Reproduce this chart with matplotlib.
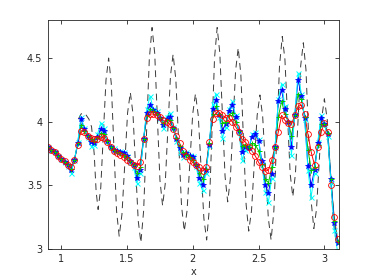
import numpy as np
import matplotlib
matplotlib.use('Agg')
import matplotlib.pyplot as plt

# sample positions shared by the four filtered series
x = [0.900, 0.925, 0.950, 0.975, 1.000, 1.025, 1.050, 1.075, 1.100, 1.125,
     1.150, 1.175, 1.200, 1.225, 1.250, 1.275, 1.300, 1.325, 1.350, 1.375,
     1.400, 1.425, 1.450, 1.475, 1.500, 1.525, 1.550, 1.575, 1.600, 1.625,
     1.650, 1.675, 1.700, 1.725, 1.750, 1.775, 1.800, 1.825, 1.850, 1.875,
     1.900, 1.925, 1.950, 1.975, 2.000, 2.025, 2.050, 2.075, 2.100, 2.125,
     2.150, 2.175, 2.200, 2.225, 2.250, 2.275, 2.300, 2.325, 2.350, 2.375,
     2.400, 2.425, 2.450, 2.475, 2.500, 2.525, 2.550, 2.575, 2.600, 2.625,
     2.650, 2.675, 2.700, 2.725, 2.750, 2.775, 2.800, 2.825, 2.850, 2.875,
     2.900, 2.925, 2.950, 2.975, 3.000, 3.025, 3.050, 3.075, 3.100]

y_cyan = [3.80, 3.78, 3.76, 3.73, 3.71, 3.68, 3.65, 3.60, 3.70, 3.84,
          4.04, 3.95, 3.88, 3.81, 3.82, 3.90, 3.99, 3.95, 3.85, 3.80,
          3.79, 3.77, 3.77, 3.76, 3.73, 3.68, 3.64, 3.52, 3.60, 3.86,
          4.10, 4.20, 4.10, 4.08, 4.03, 3.95, 4.04, 4.07, 3.96, 3.85,
          3.76, 3.72, 3.76, 3.74, 3.73, 3.65, 3.52, 3.46, 3.60, 3.82,
          4.14, 4.22, 4.04, 3.87, 3.96, 4.10, 4.16, 4.05, 3.92, 3.70,
          3.78, 3.79, 3.90, 3.92, 3.86, 3.67, 3.45, 3.37, 3.56, 3.80,
          4.18, 4.30, 4.12, 4.00, 3.74, 4.06, 4.38, 4.22, 4.02, 3.62,
          3.41, 3.60, 3.84, 4.05, 3.98, 3.89, 3.52, 3.15, 2.98]

y_blue = [3.80, 3.78, 3.76, 3.73, 3.71, 3.68, 3.66, 3.62, 3.70, 3.83,
          4.02, 3.94, 3.89, 3.84, 3.83, 3.88, 3.94, 3.93, 3.85, 3.80,
          3.78, 3.77, 3.76, 3.75, 3.73, 3.69, 3.66, 3.56, 3.62, 3.86,
          4.07, 4.13, 4.09, 4.07, 4.03, 3.97, 4.02, 4.04, 3.95, 3.86,
          3.79, 3.74, 3.75, 3.73, 3.72, 3.66, 3.56, 3.50, 3.62, 3.82,
          4.10, 4.17, 4.05, 3.93, 3.98, 4.08, 4.13, 4.04, 3.93, 3.76,
          3.80, 3.79, 3.88, 3.90, 3.85, 3.69, 3.50, 3.44, 3.59, 3.80,
          4.16, 4.25, 4.10, 4.00, 3.80, 4.05, 4.33, 4.20, 4.03, 3.65,
          3.50, 3.62, 3.83, 4.03, 3.98, 3.90, 3.55, 3.20, 3.05]

y_green = [3.80, 3.78, 3.76, 3.73, 3.71, 3.68, 3.66, 3.63, 3.70, 3.83,
           3.97, 3.93, 3.89, 3.86, 3.85, 3.87, 3.91, 3.90, 3.85, 3.80,
           3.78, 3.76, 3.75, 3.74, 3.72, 3.69, 3.66, 3.60, 3.64, 3.86,
           4.05, 4.10, 4.08, 4.06, 4.03, 3.99, 4.01, 4.01, 3.95, 3.87,
           3.81, 3.76, 3.74, 3.72, 3.70, 3.66, 3.60, 3.55, 3.63, 3.83,
           4.06, 4.12, 4.06, 3.99, 4.00, 4.05, 4.07, 4.00, 3.93, 3.81,
           3.82, 3.80, 3.83, 3.82, 3.77, 3.67, 3.55, 3.52, 3.64, 3.80,
           4.04, 4.16, 4.06, 4.00, 3.89, 4.05, 4.22, 4.18, 4.04, 3.78,
           3.62, 3.64, 3.82, 3.98, 3.98, 3.91, 3.55, 3.22, 3.06]

y_red = [3.80, 3.78, 3.76, 3.73, 3.71, 3.69, 3.66, 3.64, 3.70, 3.82,
         3.93, 3.92, 3.89, 3.87, 3.86, 3.86, 3.88, 3.87, 3.84, 3.80,
         3.77, 3.75, 3.74, 3.72, 3.70, 3.68, 3.66, 3.65, 3.68, 3.86,
         4.03, 4.06, 4.06, 4.05, 4.04, 4.01, 4.00, 3.98, 3.94, 3.89,
         3.83, 3.77, 3.73, 3.70, 3.68, 3.66, 3.64, 3.61, 3.64, 3.84,
         4.02, 4.07, 4.07, 4.05, 4.03, 4.03, 4.00, 3.96, 3.92, 3.86,
         3.84, 3.80, 3.77, 3.73, 3.68, 3.64, 3.61, 3.62, 3.70, 3.80,
         3.92, 4.05, 4.01, 3.99, 3.98, 4.05, 4.12, 4.13, 4.06, 3.90,
         3.76, 3.66, 3.80, 3.92, 3.99, 3.92, 3.50, 3.25, 3.08]

# dashed reference signal, read at extrema and in between
x_sig = [1.13, 1.15, 1.17, 1.19, 1.21, 1.23, 1.25, 1.265, 1.28,
         1.30, 1.32, 1.34, 1.36, 1.38, 1.40, 1.42, 1.44,
         1.461, 1.4825, 1.504, 1.525, 1.545, 1.565, 1.585, 1.605,
         1.626, 1.6475, 1.669, 1.69, 1.71, 1.73, 1.75, 1.77,
         1.79, 1.81, 1.83, 1.85, 1.871, 1.8925, 1.914, 1.935,
         1.956, 1.9775, 1.999, 2.02, 2.041, 2.0625, 2.084, 2.105,
         2.125, 2.145, 2.165, 2.185, 2.205, 2.225, 2.245, 2.265,
         2.285, 2.305, 2.325, 2.345, 2.365, 2.385, 2.405, 2.425,
         2.446, 2.4675, 2.489, 2.51, 2.531, 2.5525, 2.574, 2.595,
         2.616, 2.6375, 2.659, 2.68, 2.70, 2.72, 2.74, 2.76,
         2.78, 2.80, 2.82, 2.84, 2.86, 2.88, 2.90, 2.92,
         2.94, 2.96, 2.98, 3.00, 3.0225, 3.045, 3.0675, 3.09]
y_sig = [4.02, 4.06, 4.07, 4.05, 4.02, 3.96, 3.75, 3.45, 3.31,
         3.48, 3.91, 4.33, 4.50, 4.30, 3.80, 3.30, 3.10,
         3.27, 3.665, 4.07, 4.23, 4.06, 3.64, 3.22, 3.05,
         3.30, 3.895, 4.49, 4.74, 4.54, 4.04, 3.54, 3.34,
         3.51, 3.935, 4.36, 4.53, 4.33, 3.835, 3.34, 3.14,
         3.30, 3.68, 4.06, 4.22, 4.05, 3.645, 3.24, 3.07,
         3.31, 3.905, 4.50, 4.74, 4.54, 4.055, 3.57, 3.37,
         3.55, 3.975, 4.40, 4.58, 4.37, 3.86, 3.35, 3.14,
         3.30, 3.675, 4.05, 4.21, 4.04, 3.64, 3.24, 3.07,
         3.30, 3.87, 4.44, 4.67, 4.49, 4.04, 3.59, 3.41,
         3.59, 4.015, 4.44, 4.62, 4.41, 3.89, 3.37, 3.16,
         3.31, 3.67, 4.03, 4.18, 4.01, 3.615, 3.22, 3.05]

x_ticks = [1, 1.5, 2, 2.5, 3]
y_ticks = [3, 3.5, 4, 4.5]

fig = plt.figure(figsize=(3.74, 2.8), dpi=100)
ax = fig.add_axes([0.128, 0.111, 0.778, 0.818])

ax.plot(x_sig, y_sig, '--', color='#3a3a3a', lw=0.7, dashes=(7, 5))

# lines first, markers on top
ax.plot(x, y_red, '-', color='red', lw=0.7)
ax.plot(x, y_green, '-', color='#00cc00', lw=0.7)
ax.plot(x, y_blue, '-', color='blue', lw=0.7)
ax.plot(x, y_cyan, '-', color='cyan', lw=0.7)
ax.plot(x, y_cyan, 'x', color='cyan', ms=3.6, mew=0.7)
ax.plot(x, y_blue, '*', color='blue', ms=3.8, mew=0.5)
ax.plot(x, y_green, '+', color='#00cc00', ms=3.6, mew=0.7)
ax.plot(x, y_red, 'o', color='red', ms=4.2, mew=0.6, mfc='none')

ax.set_xlim(0.898, 3.11)
ax.set_ylim(3, 4.8)
ax.set_xticks(x_ticks)
ax.set_xticklabels(['1', '1.5', '2', '2.5', '3'])
ax.set_yticks(y_ticks)
ax.set_yticklabels(['3', '3.5', '4', '4.5'])
ax.tick_params(direction='in', top=True, right=True, length=3, width=0.6,
               labelsize=7, colors='#262626', pad=4)
for s in ax.spines.values():
    s.set_color('#262626')
    s.set_linewidth(0.6)
ax.set_xlabel('x', fontsize=7, color='#262626', labelpad=2)

fig.savefig('out.png', dpi=100)
